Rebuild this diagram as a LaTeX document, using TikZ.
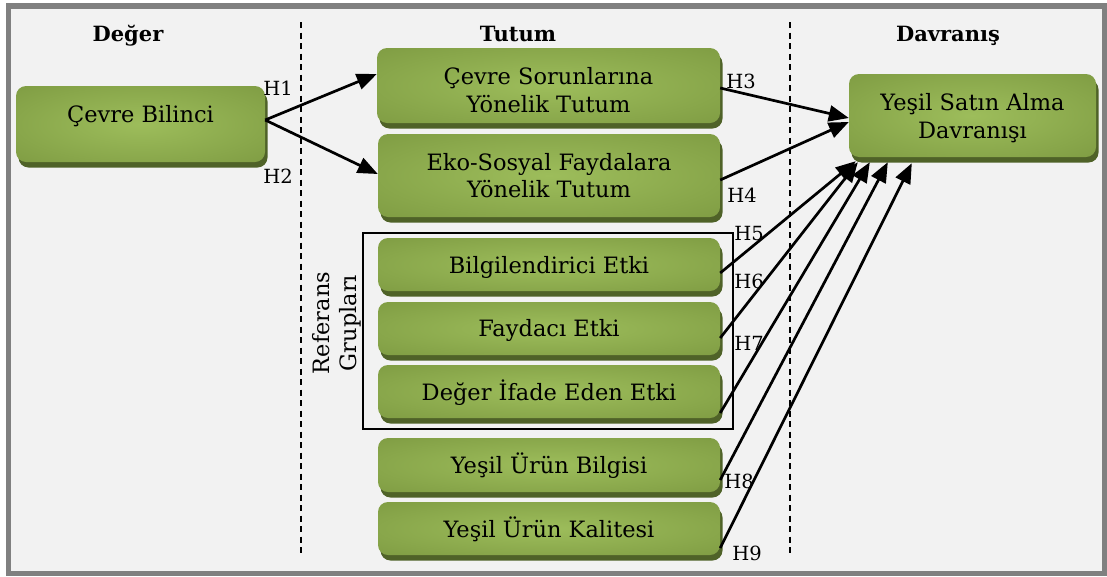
\documentclass[tikz,border=0pt]{standalone}
\usepackage{fontspec}
\setmainfont{DejaVu Serif}
\usetikzlibrary{arrows.meta,shadows}

\definecolor{panel}{HTML}{F2F2F2}
\definecolor{framegray}{HTML}{808080}
\definecolor{gin}{HTML}{9DBD5B}
\definecolor{gout}{HTML}{74903A}
\definecolor{gshadow}{HTML}{4F6228}

% soft light centre fading to a darker green rim
\pgfdeclareradialshading{greenglow}{\pgfpoint{0bp}{0bp}}{%
  color(0bp)=(gin); color(50bp)=(gout); color(80bp)=(gout)}

\tikzset{
  gbox/.style={rectangle, rounded corners=10pt, shading=greenglow, inner sep=0pt,
    drop shadow={shadow xshift=2.5pt, shadow yshift=-5.5pt, fill=gshadow, opacity=1}},
  boxtext/.style={anchor=base, inner sep=0pt, font=\fontsize{22.5}{27}\selectfont},
  hlabel/.style={anchor=base, inner sep=0pt, font=\fontsize{19.5}{22}\selectfont},
  header/.style={anchor=base, inner sep=0pt, font=\bfseries\fontsize{21}{24}\selectfont},
  link/.style={line width=2.7pt, -{Triangle[length=20pt,width=16pt]}},
  divider/.style={line width=2pt, dash pattern=on 6pt off 4.5pt},
}

\begin{document}
\begin{tikzpicture}[x=1pt,y=-1pt]
\useasboundingbox (0,0) rectangle (1107,576);
\fill[white] (0,0) rectangle (1107,576);
\draw[framegray, line width=5.5pt, fill=panel] (8.5,6) rectangle (1104.5,573.5);

% column dividers
\draw[divider] (301,22) -- (301,553);
\draw[divider] (790,22) -- (790,553);

% column headings
\node[header] (hdeger) at (128,41) {Değer};
\node[header] (htutum) at (518,41) {Tutum};
\node[header] (hdavr) at (948,41) {Davranış};

% boxes
\node[gbox, minimum width=249pt, minimum height=76pt] (cb) at (140.5,124) {};
\node[gbox, minimum width=343pt, minimum height=75pt] (cs) at (548.5,85.5) {};
\node[gbox, minimum width=342pt, minimum height=83pt] (ek) at (549,175.5) {};
\node[gbox, minimum width=247pt, minimum height=83pt] (ys) at (972.5,115.5) {};
\node[gbox, minimum width=342pt, minimum height=53pt] (be) at (549,264.5) {};
\node[gbox, minimum width=342pt, minimum height=53pt] (fe) at (549,328.5) {};
\node[gbox, minimum width=342pt, minimum height=53pt] (di) at (549,391.5) {};
\node[gbox, minimum width=342pt, minimum height=54pt] (ub) at (549,465) {};
\node[gbox, minimum width=342pt, minimum height=53pt] (uk) at (549,528.5) {};

% box texts
\node[boxtext] (cbt) at (140.5,122.5) {Çevre Bilinci};
\node[boxtext] (cst1) at (548.5,84) {Çevre Sorunlarına};
\node[boxtext] (cst2) at (548.5,112) {Yönelik Tutum};
\node[boxtext] (ekt1) at (549,170) {Eko-Sosyal Faydalara};
\node[boxtext] (ekt2) at (549,197) {Yönelik Tutum};
\node[boxtext] (yst1) at (972.5,110) {Yeşil Satın Alma};
\node[boxtext] (yst2) at (972.5,138) {Davranışı};
\node[boxtext] (bet) at (549,273) {Bilgilendirici Etki};
\node[boxtext] (fet) at (549,336) {Faydacı Etki};
\node[boxtext] (dit) at (549,400) {Değer İfade Eden Etki};
\node[boxtext] (ubt) at (549,473) {Yeşil Ürün Bilgisi};
\node[boxtext] (ukt) at (549,537) {Yeşil Ürün Kalitesi};

% reference-group frame and its caption
\node[draw, line width=1.5pt, minimum width=370pt, minimum height=196pt, inner sep=0pt] (refbox) at (548,331) {};
\node[rotate=90, align=center, inner sep=0pt, font=\fontsize{22.5}{27}\selectfont] (reft) at (337,323) {Referans\\Grupları};

% hypotheses
\draw[link] ([yshift=4pt]cb.east) -- ([yshift=11.5pt]cs.west);
\draw[link] ([yshift=4pt]cb.east) -- ([yshift=1.5pt]ek.west);
\draw[link] ([yshift=-2.5pt]cs.east) -- ([yshift=-2.5pt]ys.west);
\draw[link] ([yshift=-4.5pt]ek.east) -- ([yshift=-6.5pt]ys.west);
\draw[link] ([yshift=-8.5pt]be.east) -- ([shift={(7pt,-4pt)}]ys.south west);
\draw[link] ([yshift=-9.5pt]fe.east) -- ([shift={(9pt,-5pt)}]ys.south west);
\draw[link] ([yshift=-21.5pt]di.east) -- ([shift={(21pt,-5pt)}]ys.south west);
\draw[link] ([yshift=-15pt]ub.east) -- ([shift={(39pt,-5pt)}]ys.south west);
\draw[link] ([yshift=-19.5pt]uk.east) -- ([shift={(63pt,-6pt)}]ys.south west);

% hypothesis labels
\node[hlabel] (h1) at (278,95) {H1};
\node[hlabel] (h2) at (278,183) {H2};
\node[hlabel] (h3) at (741,88) {H3};
\node[hlabel] (h4) at (742,202) {H4};
\node[hlabel] (h5) at (749,240) {H5};
\node[hlabel] (h6) at (749,288) {H6};
\node[hlabel] (h7) at (749,350) {H7};
\node[hlabel] (h8) at (739,488) {H8};
\node[hlabel] (h9) at (747,560) {H9};
\end{tikzpicture}
\end{document}
